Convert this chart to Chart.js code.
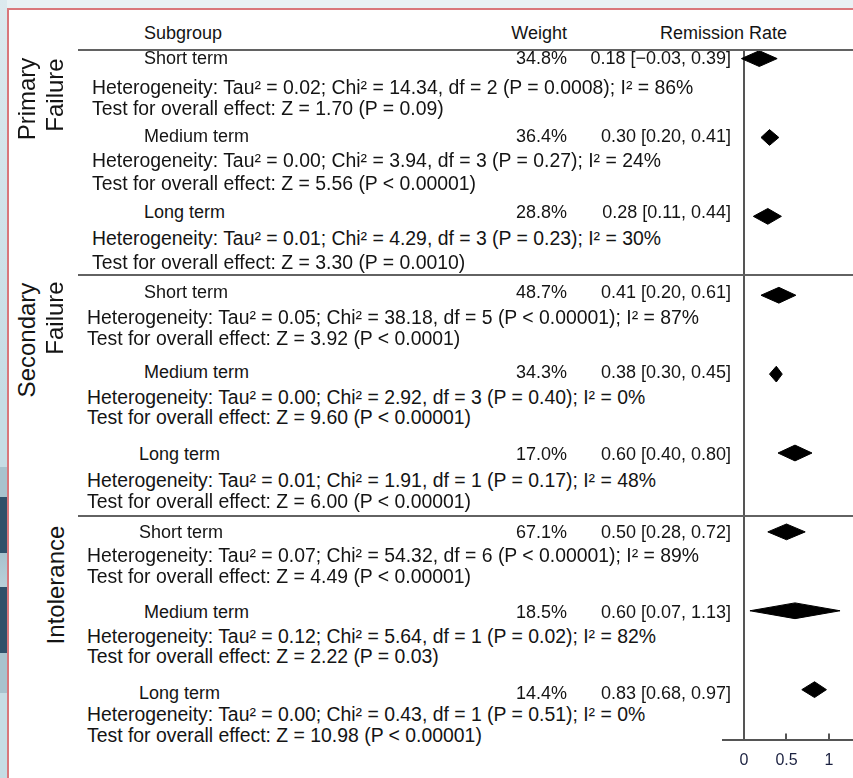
<!DOCTYPE html>
<html>
<head>
<meta charset="utf-8">
<script src="https://cdn.jsdelivr.net/npm/chart.js@4.4.1/dist/chart.umd.min.js"></script>
<style>
  html, body { margin: 0; padding: 0; }
  body {
    width: 853px; height: 778px; overflow: hidden; position: relative;
    background: #e9f1f4;
    font-family: "Liberation Sans", Arial, Helvetica, sans-serif;
    color: #141414;
  }
  #strip {
    position: absolute; left: 0; top: 0; width: 7px; height: 778px;
    background: linear-gradient(to bottom,
      #dce9ee 0px, #c6dce4 400px, #c6dce4 467px, #a8c2cd 467px, #a8c2cd 497px,
      #2f5069 497px, #2f5069 553px, #a8c2cd 553px, #b9d0d9 587px,
      #2f5069 587px, #2f5069 653px, #a8c2cd 653px, #a8c2cd 693px, #c6dce4 693px);
  }
  #panel {
    position: absolute; left: 7px; top: 8px; right: -10px; bottom: -10px;
    background: #fff; border-left: 2px solid #d9777b; border-top: 2px solid #d9777b;
  }
  #chart { position: absolute; left: 722px; top: 50px; }
  .t {
    position: absolute; font-size: 18px; line-height: 20px; height: 20px;
    white-space: nowrap;
  }
  .big { font-size: 19.4px; }
  .r { text-align: right; }
  .rule { position: absolute; left: 78px; right: 0; height: 2px; background: #626262; }
  .grp {
    position: absolute; font-size: 24px; line-height: 24px; white-space: nowrap;
    transform: translate(-50%, -50%) rotate(-90deg);
  }
</style>
</head>
<body>
<div id="strip"></div>
<div id="panel"></div>
<canvas id="chart" width="131" height="728"></canvas>
<div id="table"></div>

<script>
// subgroup results, one entry per row (3 groups x 3 terms)
const groups = [["Primary", "Failure"], ["Secondary", "Failure"], ["Intolerance"]];
const terms = ["Short term", "Medium term", "Long term",
               "Short term", "Medium term", "Long term",
               "Short term", "Medium term", "Long term"];
const weights = [34.8, 36.4, 28.8, 48.7, 34.3, 17.0, 67.1, 18.5, 14.4];
const rate = [0.18, 0.30, 0.28, 0.41, 0.38, 0.60, 0.50, 0.60, 0.83];
const ciLow = [-0.03, 0.20, 0.11, 0.20, 0.30, 0.40, 0.28, 0.07, 0.68];
const ciHigh = [0.39, 0.41, 0.44, 0.61, 0.45, 0.80, 0.72, 1.13, 0.97];
const tau2 = [0.02, 0.00, 0.01, 0.05, 0.00, 0.01, 0.07, 0.12, 0.00];
const chi2 = [14.34, 3.94, 4.29, 38.18, 2.92, 1.91, 54.32, 5.64, 0.43];
const df = [2, 3, 3, 5, 3, 1, 6, 1, 1];
const hetP = ["P = 0.0008", "P = 0.27", "P = 0.23", "P < 0.00001", "P = 0.40",
              "P = 0.17", "P < 0.00001", "P = 0.02", "P = 0.51"];
const i2 = [86, 24, 30, 87, 0, 48, 89, 82, 0];
const zVal = [1.70, 5.56, 3.30, 3.92, 9.60, 6.00, 4.49, 2.22, 10.98];
const zP = ["P = 0.09", "P < 0.00001", "P = 0.0010", "P < 0.0001", "P < 0.00001",
            "P < 0.00001", "P < 0.00001", "P = 0.03", "P < 0.00001"];
const xTicks = [0, 0.5, 1];

// text layout (vertical centres of each line, left edges)
const labelY = [58, 136, 212, 292, 372, 454, 532, 612, 693];
const hetY = [87, 160, 238, 317, 397, 480, 555, 636, 714];
const testY = [108, 183, 262, 338, 417, 501, 576, 656, 735];
const labelX = [144, 144, 144, 144, 144, 139, 139, 144, 139];
const hetX = [92, 92, 92, 87, 87, 87, 87, 87, 87];
const groupPos = [
  [[27, 99], [55, 95]],
  [[27, 340], [55, 318]],
  [[56, 585]]
];
const rules = [50, 275, 516];

const table = document.getElementById("table");

function addText(text, x, y, cls) {
  const d = document.createElement("div");
  d.className = "t" + (cls ? " " + cls : "");
  d.textContent = text;
  d.style.top = (y - 10) + "px";
  if (cls === "r") d.style.right = (853 - x) + "px";
  else d.style.left = x + "px";
  table.appendChild(d);
}

const num = v => v < 0 ? "\u2212" + Math.abs(v).toFixed(2) : v.toFixed(2);

addText("Subgroup", 144, 33);
addText("Weight", 567, 33, "r");
addText("Remission Rate", 660, 33);

rules.forEach(y => {
  const d = document.createElement("div");
  d.className = "rule";
  d.style.top = (y - 1) + "px";
  table.appendChild(d);
});

terms.forEach((term, i) => {
  addText(term, labelX[i], labelY[i]);
  addText(weights[i].toFixed(1) + "%", 567, labelY[i], "r");
  addText(rate[i].toFixed(2) + " [" + num(ciLow[i]) + ", " + num(ciHigh[i]) + "]", 731, labelY[i], "r");
  addText("Heterogeneity: Tau\u00b2 = " + tau2[i].toFixed(2) + "; Chi\u00b2 = " + chi2[i].toFixed(2) +
          ", df = " + df[i] + " (" + hetP[i] + "); I\u00b2 = " + i2[i] + "%", hetX[i], hetY[i], "big");
  addText("Test for overall effect: Z = " + zVal[i].toFixed(2) + " (" + zP[i] + ")", hetX[i], testY[i], "big");
});

groups.forEach((lines, g) => {
  lines.forEach((line, k) => {
    const d = document.createElement("div");
    d.className = "grp";
    d.textContent = line;
    d.style.left = groupPos[g][k][0] + "px";
    d.style.top = groupPos[g][k][1] + "px";
    table.appendChild(d);
  });
});

// diamonds: one closed shape per subgroup, row index on the y scale
const HALF = 0.1;
const diamonds = rate.map((r, i) => ({
  data: [
    { x: ciLow[i], y: i },
    { x: r, y: i - HALF },
    { x: ciHigh[i], y: i },
    { x: r, y: i + HALF },
    { x: ciLow[i], y: i }
  ],
  showLine: true,
  fill: "shape",
  backgroundColor: "#000",
  borderColor: "#000",
  borderWidth: 1,
  pointRadius: 0,
  tension: 0
}));

// small upward ticks on the x axis
const upTicks = {
  id: "upTicks",
  afterDraw(chart) {
    const { ctx, chartArea, scales } = chart;
    ctx.save();
    ctx.strokeStyle = "#555";
    ctx.lineWidth = 2;
    xTicks.forEach(v => {
      const px = Math.round(scales.x.getPixelForValue(v));
      ctx.beginPath();
      ctx.moveTo(px, chartArea.bottom - 6);
      ctx.lineTo(px, chartArea.bottom);
      ctx.stroke();
    });
    ctx.restore();
  }
};

new Chart(document.getElementById("chart"), {
  type: "scatter",
  data: { datasets: diamonds },
  options: {
    responsive: false,
    animation: false,
    devicePixelRatio: 1,
    layout: { padding: 0 },
    plugins: { legend: { display: false }, tooltip: { enabled: false } },
    scales: {
      x: {
        min: -0.2588,
        max: 1.2824,
        afterBuildTicks: s => { s.ticks = xTicks.map(v => ({ value: v })); },
        afterFit: s => { s.height = 38.5; },
        border: { display: true, color: "#555", width: 2 },
        grid: {
          drawTicks: false,
          lineWidth: 2,
          color: c => (c.tick && c.tick.value === 0 ? "#555" : "rgba(0,0,0,0)")
        },
        ticks: {
          padding: 11,
          autoSkip: false,
          maxRotation: 0,
          color: "#1b2140",
          font: { family: "Liberation Sans", size: 16 },
          callback: v => String(v)
        }
      },
      y: {
        display: false,
        reverse: true,
        min: -0.109,
        max: 8.632
      }
    }
  },
  plugins: [upTicks]
});
</script>
</body>
</html>
